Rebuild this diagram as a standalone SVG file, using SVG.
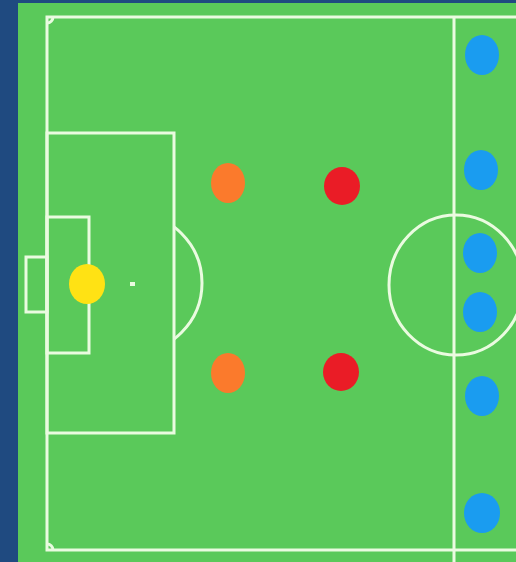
<svg xmlns="http://www.w3.org/2000/svg" width="516" height="562" viewBox="0 0 516 562">
<style>
.ln{fill:none;stroke:#eafbe0;stroke-width:3}
.gk{fill:#ffe214}
.or{fill:#fb7a2c}
.rd{fill:#ea1c26}
.bl{fill:#1a9cf0}
</style>
<defs>
<clipPath id="arcclip"><rect x="175" y="0" width="100" height="562"/></clipPath>
</defs>
<rect x="0" y="0" width="516" height="562" fill="#1f4a80"/>
<rect x="18" y="3" width="498" height="559" fill="#5ac95a"/>
<g id="pitch">
<path class="ln" d="M516 17 H47 V550 H516"/>
<path class="ln" d="M47 23 A6 6 0 0 0 53 17"/>
<path class="ln" d="M53 550 A6 6 0 0 0 47 544"/>
<rect class="ln" x="47" y="133" width="127" height="300"/>
<rect class="ln" x="47" y="217" width="42" height="136"/>
<rect class="ln" x="26" y="257" width="21" height="55"/>
<rect x="130" y="282" width="5" height="4" fill="#eafbe0"/>
<circle class="ln" cx="132" cy="283" r="70" clip-path="url(#arcclip)"/>
<line class="ln" x1="454" y1="17" x2="454" y2="562"/>
<ellipse class="ln" cx="456" cy="285" rx="67" ry="70"/>
</g>
<g id="goalkeeper"><ellipse class="gk" cx="87" cy="284" rx="18" ry="20"/></g>
<g id="orange1"><ellipse class="or" cx="228" cy="183" rx="17" ry="20"/></g>
<g id="orange2"><ellipse class="or" cx="228" cy="373" rx="17" ry="20"/></g>
<g id="red1"><ellipse class="rd" cx="342" cy="186" rx="18" ry="19"/></g>
<g id="red2"><ellipse class="rd" cx="341" cy="372" rx="18" ry="19"/></g>
<g id="blue1"><ellipse class="bl" cx="482" cy="55" rx="17" ry="20"/></g>
<g id="blue2"><ellipse class="bl" cx="481" cy="170" rx="17" ry="20"/></g>
<g id="blue3"><ellipse class="bl" cx="480" cy="253" rx="17" ry="20"/></g>
<g id="blue4"><ellipse class="bl" cx="480" cy="312" rx="17" ry="20"/></g>
<g id="blue5"><ellipse class="bl" cx="482" cy="396" rx="17" ry="20"/></g>
<g id="blue6"><ellipse class="bl" cx="482" cy="513" rx="18" ry="20"/></g>
<g id="connectors"></g>
</svg>
